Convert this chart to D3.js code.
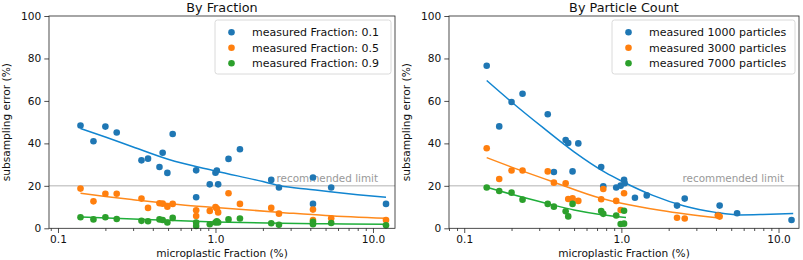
<!DOCTYPE html>
<html><head><meta charset="utf-8">
<script src="https://cdn.jsdelivr.net/npm/d3@7"></script>
<style>
body{margin:0;background:#fff;}
text{font-family:"DejaVu Sans",sans-serif;fill:#111;}
</style></head>
<body><svg id="c" width="803" height="260"></svg>
<script>
// ---------- DATA ----------
const yTicks = [0, 20, 40, 60, 80, 100];
const xTicks = [0.1, 1.0, 10.0];
const limitValue = 20;
const limitLabel = "recommended limit";
const xLabel = "microplastic Fraction (%)";
const yLabel = "subsampling error (%)";

// Left panel: By Fraction
const leftTitle = "By Fraction";
const leftNames = ["measured Fraction: 0.1", "measured Fraction: 0.5", "measured Fraction: 0.9"];
const leftX = [0.139,0.168,0.2,0.236,0.339,0.373,0.441,0.462,0.495,0.535,0.754,0.754,0.92,1.0,1.02,1.04,1.21,1.43,2.26,2.53,4.16,4.16,5.43,12.1];
const leftY01 = [48.4,41.0,47.9,45.1,32.0,32.8,28.9,35.6,26.1,44.4,27.3,14.6,20.7,26.2,27.2,20.7,32.7,37.2,22.8,19.2,23.9,11.5,19.2,11.5];
const leftY05 = [18.7,12.7,16.3,16.3,14.0,9.6,11.8,11.6,10.2,11.5,8.5,5.8,8.2,10.0,9.3,7.5,16.5,11.5,9.6,6.9,8.8,3.9,4.7,3.9];
const leftY09 = [5.2,4.2,5.2,4.4,3.5,3.3,4.2,3.9,2.7,4.9,2.7,1.1,1.9,2.7,3.3,2.7,4.2,4.6,2.4,1.7,3.1,1.9,2.5,1.4];
const leftFit01X = [0.139,0.2,0.3,0.5,1.0,2.0,2.57,4.0,5.35,8.0,12.1];
const leftFit01Y = [47.0,43.0,38.3,32.5,27.0,22.0,20.0,18.3,17.2,15.8,14.6];
const leftFit05X = [0.139,0.2,0.3,0.6,1.0,2.6,5.0,12.1];
const leftFit05Y = [16.5,15.0,13.5,11.1,9.8,7.5,6.0,4.7];
const leftFit09X = [0.139,0.3,0.6,1.0,2.6,5.0,12.1];
const leftFit09Y = [5.3,4.4,3.5,3.0,2.4,2.1,1.9];

// Right panel: By Particle Count
const rightTitle = "By Particle Count";
const rightNames = ["measured 1000 particles", "measured 3000 particles", "measured 7000 particles"];
const rightX1000 = [0.139,0.167,0.2,0.235,0.34,0.372,0.442,0.459,0.489,0.532,0.744,0.767,0.927,0.99,1.04,1.05,1.22,1.45,2.26,2.53,4.22,4.12,5.45,12.1];
const rightY1000 = [76.6,48.0,59.5,63.4,53.7,26.5,41.6,40.2,26.8,40.0,28.9,19.8,19.2,20.1,22.8,21.2,14.4,15.5,10.7,14.0,10.7,6.3,7.1,3.9];
const rightX3000 = [0.139,0.167,0.2,0.235,0.34,0.372,0.442,0.459,0.489,0.532,0.744,0.767,0.927,0.99,1.04,2.26,2.53,4.12,4.22];
const rightY3000 = [37.7,23.2,27.2,27.2,26.8,21.5,21.2,13.8,14.1,12.9,13.7,18.5,12.9,8.6,16.5,5.0,4.6,6.0,5.5];
const rightX7000 = [0.139,0.167,0.2,0.235,0.34,0.372,0.442,0.459,0.489,0.744,0.767,0.927,0.99,1.04,1.04];
const rightY7000 = [19.2,17.6,16.8,13.5,11.5,10.2,8.0,5.6,11.5,8.1,6.8,6.0,2.0,8.3,2.2];
const rightFit1000X = [0.139,0.2,0.316,0.5,0.794,1.0,1.585,2.51,3.98,5.62,7.94,12.4];
const rightFit1000Y = [69.6,59.5,47.5,36.0,26.2,22.3,15.5,10.5,7.5,6.3,6.5,7.0];
const rightFit3000X = [0.139,0.238,0.351,0.75,1.0,1.8,4.2];
const rightFit3000Y = [33.3,26.8,22.4,14.0,11.8,8.4,4.8];
const rightFit7000X = [0.139,0.2,0.34,0.5,0.75,1.07];
const rightFit7000Y = [19.3,16.0,11.6,8.6,6.4,5.1];

// ---------- STYLE ----------
const dotColors = ["#1f77b4", "#ff7f0e", "#2ca02c"];
const lineColors = ["#1185d0", "#ff8a1c", "#1fae3a"];

const svg = d3.select("#c");

function panel(cfg) {
  const x = d3.scaleLog().domain(cfg.xDomain).range([cfg.left, cfg.right]);
  const y = d3.scaleLinear().domain([0, 100]).range([cfg.bottom, cfg.top]);
  const g = svg.append("g");

  // recommended limit line
  g.append("line").attr("x1", cfg.left).attr("x2", cfg.right)
    .attr("y1", y(limitValue)).attr("y2", y(limitValue))
    .attr("stroke", "#cccccc").attr("stroke-width", 1.5);
  g.append("text").attr("x", cfg.limitX).attr("y", y(limitValue) - 4)
    .attr("text-anchor", "end").attr("font-size", 10.4).style("fill", "#999")
    .text(limitLabel);

  const line = d3.line().x(d => x(d[0])).y(d => y(d[1])).curve(d3.curveMonotoneX);
  cfg.fits.forEach((f, i) => {
    g.append("path").datum(d3.zip(f[0], f[1])).attr("d", line)
      .attr("fill", "none").attr("stroke", lineColors[i]).attr("stroke-width", 1.5);
  });
  cfg.series.forEach((s, i) => {
    g.append("g").selectAll("circle").data(d3.zip(s[0], s[1])).join("circle")
      .attr("cx", d => x(d[0])).attr("cy", d => y(d[1])).attr("r", 3.3)
      .attr("fill", dotColors[i]);
  });

  // axes
  const xAxis = d3.axisBottom(x).tickValues(xTicks).tickFormat(d3.format(".1f")).tickSize(4.7).tickPadding(2.5);
  g.append("g").attr("transform", `translate(0,${cfg.bottom})`).call(xAxis);
  const lo = Math.floor(Math.log10(cfg.xDomain[0])), hi = Math.ceil(Math.log10(cfg.xDomain[1]));
  const minor = [];
  for (let e = lo; e < hi; e++) for (let k = 2; k <= 9; k++) {
    const v = k * Math.pow(10, e);
    if (v >= cfg.xDomain[0] && v <= cfg.xDomain[1]) minor.push(v);
  }
  const xMinor = d3.axisBottom(x).tickValues(minor).tickFormat("").tickSize(2.7);
  g.append("g").attr("transform", `translate(0,${cfg.bottom})`).call(xMinor);
  const yAxis = d3.axisLeft(y).tickValues(yTicks).tickSize(4.7).tickPadding(3);
  g.append("g").attr("transform", `translate(${cfg.left},0)`).call(yAxis);
  g.selectAll(".domain").remove();
  g.selectAll(".tick line").attr("stroke", "#222").attr("stroke-width", 0.8);
  g.selectAll(".tick text").attr("font-size", 10.6).attr("font-family", "DejaVu Sans").style("fill", "#111");

  g.append("rect").attr("x", cfg.left).attr("y", cfg.top)
    .attr("width", cfg.right - cfg.left).attr("height", cfg.bottom - cfg.top)
    .attr("fill", "none").attr("stroke", "#222").attr("stroke-width", 0.8);

  // title and labels
  g.append("text").attr("x", (cfg.left + cfg.right) / 2).attr("y", 12)
    .attr("text-anchor", "middle").attr("font-size", 12.8).text(cfg.title);
  g.append("text").attr("x", (cfg.left + cfg.right) / 2).attr("y", 256.5)
    .attr("text-anchor", "middle").attr("font-size", 10.6).text(xLabel);
  g.append("text").attr("transform", `translate(${cfg.left - 39},${(cfg.top + cfg.bottom) / 2}) rotate(-90)`)
    .attr("text-anchor", "middle").attr("font-size", 10.6).text(yLabel);

  // legend
  const lg = g.append("g");
  lg.append("rect").attr("x", cfg.legX).attr("y", 20).attr("width", cfg.legW).attr("height", 54)
    .attr("rx", 2.5).attr("fill", "#fff").attr("fill-opacity", 0.8)
    .attr("stroke", "#d0d0d0").attr("stroke-width", 0.8);
  cfg.names.forEach((n, i) => {
    const yy = 32.3 + i * 15.5;
    lg.append("circle").attr("cx", cfg.legX + 16.5).attr("cy", yy).attr("r", 3.3).attr("fill", dotColors[i]);
    lg.append("text").attr("x", cfg.legX + 37).attr("y", yy + 4).attr("font-size", 11).text(n);
  });
}

panel({
  title: leftTitle, names: leftNames,
  xDomain: [0.0877, 13.8], left: 49, right: 395, top: 16, bottom: 228.3,
  limitX: 378, legX: 215, legW: 176,
  series: [[leftX, leftY01], [leftX, leftY05], [leftX, leftY09]],
  fits: [[leftFit01X, leftFit01Y], [leftFit05X, leftFit05Y], [leftFit09X, leftFit09Y]]
});
panel({
  title: rightTitle, names: rightNames,
  xDomain: [0.080, 13.5], left: 449, right: 799, top: 16, bottom: 228.3,
  limitX: 784, legX: 612, legW: 183,
  series: [[rightX1000, rightY1000], [rightX3000, rightY3000], [rightX7000, rightY7000]],
  fits: [[rightFit1000X, rightFit1000Y], [rightFit3000X, rightFit3000Y], [rightFit7000X, rightFit7000Y]]
});
</script></body></html>
